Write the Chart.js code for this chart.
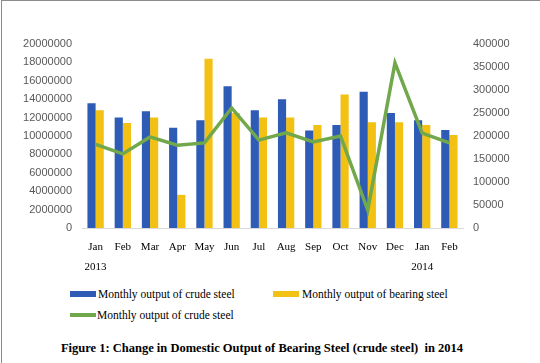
<!DOCTYPE html>
<html>
<head>
<meta charset="utf-8">
<script src="https://cdn.jsdelivr.net/npm/chart.js@4/dist/chart.umd.min.js"></script>
<style>
  html, body { margin: 0; padding: 0; background: #fff; }
  #wrap { position: relative; width: 540px; height: 363px; overflow: hidden; background: #fff; }
  #frame { position: absolute; left: 1px; top: 0; width: 539px; height: 363px; border-left: 1px solid #8c8c8c; border-top: 1px solid #8c8c8c; box-sizing: border-box; pointer-events: none; }
  #cbox { position: absolute; left: 0; top: 0; width: 540px; height: 285px; }
  #c { display: block; width: 540px; height: 285px; }
  .lg { position: absolute; font-family: "Liberation Serif", "Times New Roman", serif; font-size: 11.5px; color: #000; white-space: nowrap; line-height: 12px; }
  .sw { position: absolute; }
  #title { position: absolute; left: -8px; width: 540px; top: 341px; text-align: center; font-family: "Liberation Serif", "Times New Roman", serif; font-weight: bold; font-size: 12.5px; color: #000; white-space: pre; }
</style>
</head>
<body>
<div id="wrap">
  <div id="cbox"><canvas id="c" width="540" height="285"></canvas></div>
  <div class="sw" style="left:70px;top:291px;width:26px;height:6px;background:#2D5BB5;"></div>
  <div class="lg" id="lg1" style="left:98px;top:288px;"></div>
  <div class="sw" style="left:273px;top:291px;width:26px;height:6px;background:#F2C114;"></div>
  <div class="lg" id="lg2" style="left:302px;top:288px;"></div>
  <div class="sw" style="left:70px;top:313px;width:26px;height:4px;background:#72A84C;"></div>
  <div class="lg" id="lg3" style="left:97px;top:309px;"></div>
  <div id="title"></div>
  <div id="frame"></div>
</div>
<script>
const categories = [["Jan","2013"],"Feb","Mar","Apr","May","Jun","Jul","Aug","Sep","Oct","Nov","Dec",["Jan","2014"],"Feb"];
const crudeSteel = [13550000,12000000,12700000,10900000,11700000,15400000,12800000,14000000,10600000,11200000,14800000,12500000,11700000,10650000];
const bearingSteel = [12800000,11400000,12000000,3600000,18400000,12500000,12000000,12000000,11200000,14500000,11500000,11500000,11200000,10100000];
const crudeSteelLine = [182000,161000,198000,180000,185000,261000,191000,207000,187000,200000,39000,359000,206000,185000];
const leftTicks = [0,2000000,4000000,6000000,8000000,10000000,12000000,14000000,16000000,18000000,20000000];
const rightTicks = [0,50000,100000,150000,200000,250000,300000,350000,400000];
const seriesNames = ["Monthly output of crude steel","Monthly output of bearing steel","Monthly output of crude steel"];
const titleText = "Figure 1: Change in Domestic Output of Bearing Steel (crude steel)  in 2014";

document.getElementById('lg1').textContent = seriesNames[0];
document.getElementById('lg2').textContent = seriesNames[1];
document.getElementById('lg3').textContent = seriesNames[2];
document.getElementById('title').textContent = titleText;

const tickFont = { family: '"Liberation Sans", Arial, sans-serif', size: 11 };

new Chart(document.getElementById('c'), {
  type: 'bar',
  data: {
    labels: categories,
    datasets: [
      { type: 'line', label: seriesNames[2], data: crudeSteelLine, yAxisID: 'y2', borderColor: '#72A84C', borderWidth: 3.5, pointRadius: 0, tension: 0, order: 0, borderJoinStyle: 'miter' },
      { label: seriesNames[0], data: crudeSteel, yAxisID: 'y', backgroundColor: '#2D5BB5', categoryPercentage: 0.6, barPercentage: 1.0, order: 1 },
      { label: seriesNames[1], data: bearingSteel, yAxisID: 'y', backgroundColor: '#F2C114', categoryPercentage: 0.6, barPercentage: 1.0, order: 1 }
    ]
  },
  options: {
    responsive: false,
    maintainAspectRatio: false,
    animation: false,
    devicePixelRatio: 1,
    layout: { padding: { top: 44, left: 0, right: 0, bottom: 0 } },
    plugins: { legend: { display: false }, tooltip: { enabled: false } },
    scales: {
      x: {
        grid: { display: false, drawTicks: false },
        border: { display: true, color: '#d9d9d9' },
        ticks: { padding: 9, color: '#000', maxRotation: 0, autoSkip: false, font: { family: '"Liberation Serif", "Times New Roman", serif', size: 11, lineHeight: '20px' } },
        afterFit: (s) => { s.height = 57; }
      },
      y: {
        position: 'left', min: 0, max: 20000000,
        grid: { display: false, drawTicks: false },
        border: { display: false },
        afterBuildTicks: (s) => { s.ticks = leftTicks.map(v => ({ value: v })); },
        ticks: { padding: 10, color: '#595959', font: tickFont, callback: (v) => String(v) },
        afterFit: (s) => { s.width = 82; }
      },
      y2: {
        position: 'right', min: 0, max: 400000,
        grid: { display: false, drawTicks: false },
        border: { display: false },
        afterBuildTicks: (s) => { s.ticks = rightTicks.map(v => ({ value: v })); },
        ticks: { padding: 10, color: '#595959', font: tickFont, callback: (v) => String(v) },
        afterFit: (s) => { s.width = 77; }
      }
    }
  }
});
</script>
</body>
</html>
